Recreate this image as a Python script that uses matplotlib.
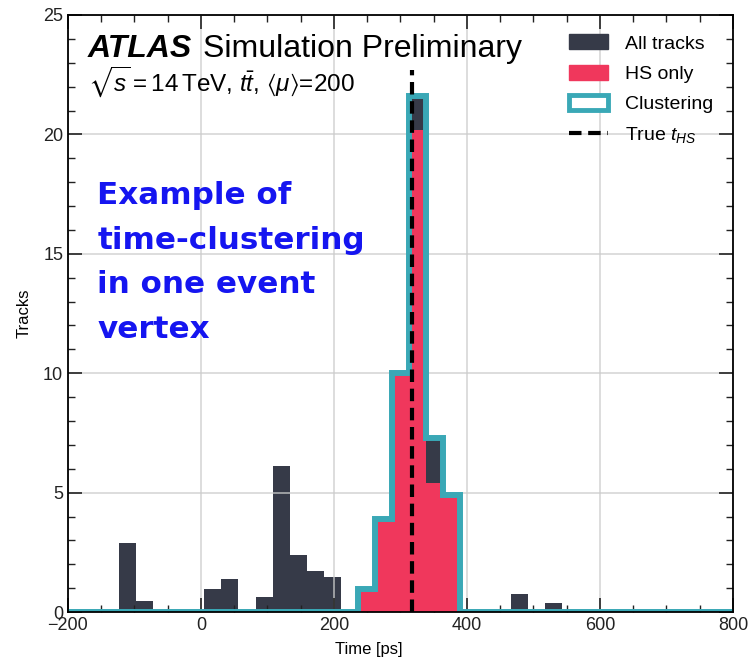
import matplotlib
matplotlib.use("Agg")
import matplotlib.pyplot as plt
from matplotlib.patches import Patch
from matplotlib.lines import Line2D
from matplotlib.ticker import MultipleLocator
import numpy as np

plt.rcParams['font.family'] = ['Liberation Sans', 'DejaVu Sans']
plt.rcParams['mathtext.fontset'] = 'custom'
plt.rcParams['mathtext.rm'] = 'Liberation Sans'
plt.rcParams['mathtext.it'] = 'Liberation Sans:italic'
plt.rcParams['mathtext.bf'] = 'Liberation Sans:bold'
plt.rcParams['mathtext.fallback'] = 'stixsans'

# 39 bins from -200 to 800 ps
edges = np.linspace(-200, 800, 40)

all_tracks = [0, 0, 0, 2.9, 0.45, 0, 0, 0, 0.95, 1.4,
              0, 0.65, 6.1, 2.4, 1.7, 1.45, 0, 0.95, 3.9, 10.0,
              21.6, 7.3, 4.9, 0, 0, 0, 0.75, 0, 0.4, 0,
              0, 0, 0, 0, 0, 0, 0, 0, 0]
hs_only = [0, 0, 0, 0, 0, 0, 0, 0, 0, 0,
           0, 0, 0, 0, 0, 0, 0, 0.95, 3.9, 10.0,
           20.2, 5.4, 4.9, 0, 0, 0, 0, 0, 0, 0,
           0, 0, 0, 0, 0, 0, 0, 0, 0]
clustering = [0, 0, 0, 0, 0, 0, 0, 0, 0, 0,
              0, 0, 0, 0, 0, 0, 0, 0.95, 3.9, 10.0,
              21.6, 7.3, 4.9, 0, 0, 0, 0, 0, 0, 0,
              0, 0, 0, 0, 0, 0, 0, 0, 0]
t_hs = 317

c_all = '#363a48'
c_hs = '#f0375c'
c_clu = '#3aa8b6'

fig = plt.figure(figsize=(7.53, 6.66), dpi=100)
ax = fig.add_axes([0.0903, 0.081, 0.883, 0.8965])

ax.stairs(all_tracks, edges, fill=True, color=c_all, zorder=2)
ax.stairs(hs_only, edges, fill=True, color=c_hs, zorder=3)
ax.stairs(clustering, edges, color=c_clu, linewidth=4.3, zorder=4)
ax.plot([t_hs, t_hs], [0, 22.7], color='black', linewidth=3, dashes=(3, 1.6), zorder=5)

ax.set_xlim(-200, 800)
ax.set_ylim(0, 25)
ax.xaxis.set_major_locator(MultipleLocator(200))
ax.xaxis.set_minor_locator(MultipleLocator(50))
ax.yaxis.set_major_locator(MultipleLocator(5))
ax.yaxis.set_minor_locator(MultipleLocator(1))
ax.tick_params(which='both', direction='in', top=True, right=True, labelsize=13, colors='#222222')
ax.tick_params(which='major', length=10, width=1.2)
ax.tick_params(which='minor', length=5, width=1)
ax.grid(True, which='major', color='#cccccc', linewidth=1.2, alpha=0.8, zorder=6)
ax.set_axisbelow(False)
for s in ax.spines.values():
    s.set_linewidth(1.3)
    s.set_zorder(7)

ax.set_xlabel('Time [ps]', fontsize=12)
ax.xaxis.set_label_coords(0.453, -0.05)
ax.set_ylabel('Tracks', fontsize=12, labelpad=8)

ax.text(0.03, 0.968, 'ATLAS', transform=ax.transAxes, fontsize=23,
        fontweight='bold', fontstyle='italic', va='top')
ax.text(0.203, 0.968, 'Simulation Preliminary', transform=ax.transAxes,
        fontsize=23, va='top')
ax.text(0.03, 0.918, r'$\sqrt{s}=14\,$TeV, $t\bar{t}$, $⟨\mu⟩$=200',
        transform=ax.transAxes, fontsize=17.5, va='top')

ax.text(0.044, 0.722, 'Example of\ntime-clustering\nin one event\nvertex',
        transform=ax.transAxes, fontsize=22.3, fontweight='bold', color='#1515f0',
        family='DejaVu Sans', va='top', linespacing=1.68)

handles = [Patch(facecolor=c_all, edgecolor=c_all),
           Patch(facecolor=c_hs, edgecolor=c_hs),
           Patch(facecolor='white', edgecolor=c_clu, linewidth=3.5),
           Line2D([0], [0], color='black', linewidth=3, dashes=(3, 1.6))]
labels = ['All tracks', 'HS only', 'Clustering', r'True $t_{HS}$']
ax.legend(handles, labels, loc='upper right', frameon=False, fontsize=14,
          bbox_to_anchor=(1.0, 1.0), handlelength=2.0, handleheight=0.8,
          handletextpad=0.9, labelspacing=0.62, borderaxespad=0.6)

fig.savefig('out.png', dpi=100)
